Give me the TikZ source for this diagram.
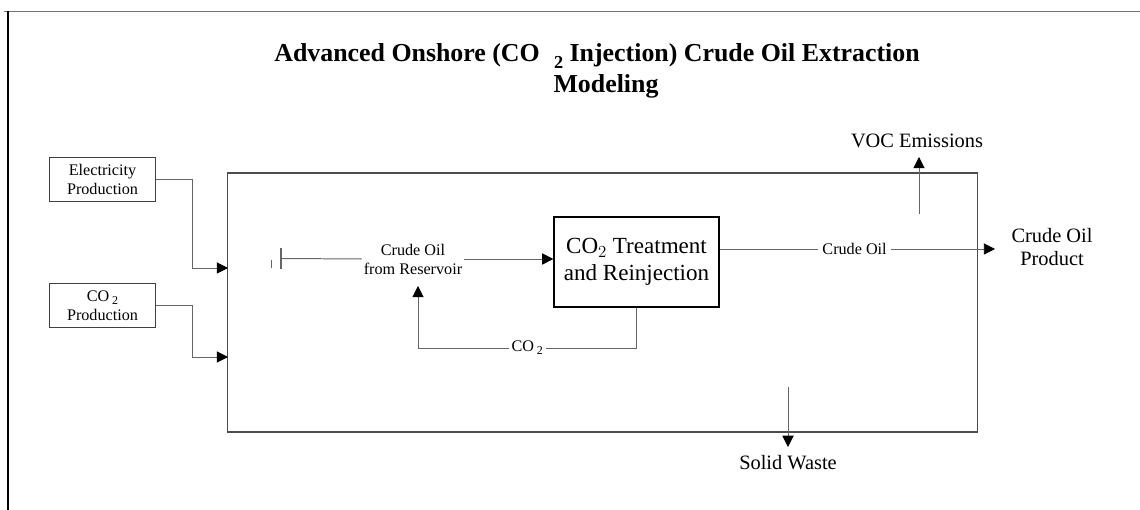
\documentclass[tikz,border=0pt]{standalone}
\usepackage{fontspec}
\setmainfont{Liberation Serif}
\usepackage{tikz}
\usetikzlibrary{arrows.meta}

\tikzset{
  flow/.style={draw=black!60, line width=0.7pt, -{Triangle[length=8pt,width=8pt,color=black]}},
  pipe/.style={draw=black!60, line width=0.7pt},
  srcbox/.style={draw=black!75, line width=0.7pt, align=center, inner sep=0pt,
    minimum width=2.625cm, minimum height=1.075cm, font=\fontsize{11.5}{13.5}\selectfont},
  small/.style={align=center, inner sep=1pt, font=\fontsize{11.5}{13.5}\selectfont},
  big/.style={align=center, inner sep=1pt, font=\fontsize{14.5}{17}\selectfont}
}

\begin{document}
\begin{tikzpicture}[x=0.025cm,y=-0.025cm]
    \useasboundingbox (0,0) rectangle (1140,510);
    % frame
    \draw[black!55, line width=1pt] (4,11.5) -- (1140,11.5);
    \draw[black, line width=1pt] (8,11.5) -- (8,510);
    % title
    \node[font=\bfseries\fontsize{18.4}{22}\selectfont, anchor=base] (title1) at (597,62)
      {Advanced Onshore (CO\hspace{0.55em}\raisebox{-0.55ex}{\fontsize{13}{13}\selectfont 2} Injection) Crude Oil Extraction};
    \node[font=\bfseries\fontsize{18.4}{22}\selectfont, anchor=base] (title2) at (606,93) {Modeling};
    % inputs
    \node[srcbox] (elec) at (102.5,179.5) {Electricity\\Production};
    \node[srcbox] (co2src) at (102.5,305.5) {CO\,\raisebox{-0.4ex}{\fontsize{8.5}{9}\selectfont 2}\\Production};
    % process boundary
    \node[draw=black!70, line width=0.8pt, minimum width=18.725cm, minimum height=6.475cm, inner sep=0pt] (plant) at (602.5,302.5) {};
    \coordinate (in1) at (228,268);
    \coordinate (in2) at (228,357);
    \draw[flow] (elec.east) -- (192,179.5) |- (in1);
    \draw[flow] (co2src.east) -- (192,305.5) |- (in2);
    % well
    \coordinate (well) at (281,258.5);
    \draw[black!60, line width=0.7pt] (271,260) -- (271,268);
    \draw[black!60, line width=0.9pt] (281,248) -- (281,269);
    \node[small] (res) at (413,259) {Crude Oil\\from Reservoir};
    \draw[pipe] (well) -- (res.west);
    \node[draw, line width=0.9pt, minimum width=4.125cm, minimum height=2.25cm, inner sep=0pt, align=center,
      font=\fontsize{16.4}{19}\selectfont] (treat) at (636.5,262) {CO$_2$ Treatment\\and Reinjection};
    \draw[flow] (res.east) -- (treat.west |- res);
    % recycle
    \coordinate (ret) at (418,286);
    \draw[flow] (treat.south) |- (418,348) node[small, pos=0.75, fill=white, inner sep=2pt]
      {CO\,\raisebox{-0.4ex}{\fontsize{8.5}{9}\selectfont 2}} -- (ret);
    % outputs
    \node[big] (prod) at (1052,247) {Crude Oil\\Product};
    \coordinate (out) at (995,249);
    \draw[flow] (treat.east |- out) -- node[small, fill=white, pos=0.49, inner sep=3pt] (oil) {Crude Oil} (out);
    \node[big] (voc) at (917,141) {VOC Emissions};
    \coordinate (vocst) at (919,214);
    \coordinate (vocend) at (919,157);
    \draw[flow] (vocst) -- (vocend);
    \node[big] (waste) at (788,463) {Solid Waste};
    \coordinate (wastest) at (788,387);
    \coordinate (wasteend) at (788,447);
    \draw[flow] (wastest) -- (wasteend);
\end{tikzpicture}
\end{document}
